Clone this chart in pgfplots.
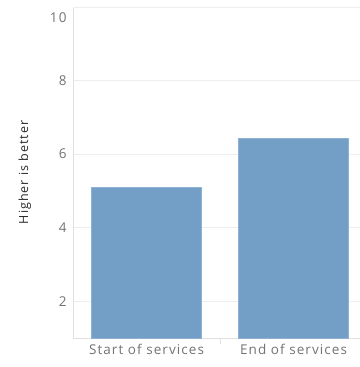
\documentclass[border=0pt]{standalone}
\usepackage{pgfplots}
\pgfplotsset{compat=1.18}
\usepackage{fontspec}
\setmainfont{Open Sans}[LetterSpace=8]
\usetikzlibrary{calc}
\definecolor{barblue}{RGB}{115,159,199}
\definecolor{gridc}{RGB}{238,238,238}
\definecolor{axc}{RGB}{225,225,225}
\definecolor{tickc}{RGB}{115,115,115}
\definecolor{labc}{RGB}{40,40,40}
\begin{document}
\begin{tikzpicture}
\begin{axis}[
  name=ax,
  scale only axis,
  width=287bp, height=331bp,
  xmin=-0.5, xmax=1.452,
  ymin=1, ymax=10,
  ytick={2,4,6,8},
  extra y ticks={10},
  extra y tick style={yticklabel style={yshift=-11bp}, grid=major},
  xtick={0,1},
  xticklabels={Start of services, End of services},
  extra x ticks={0.5},
  extra x tick labels={},
  extra x tick style={major tick length=6bp, tick style={axc, line width=0.6bp}, xmajorgrids=false},
  axis x line*=bottom,
  axis y line*=left,
  axis line style={axc, line width=0.6bp},
  x axis line style={-},
  y axis line style={-},
  major tick length=0pt,
  ymajorgrids,
  grid style={gridc, line width=0.6bp},
  tick label style={font=\fontsize{13.5bp}{15bp}\selectfont, text=tickc},
  /pgf/number format/assume math mode=true,
  yticklabel style={xshift=-3bp},
  xticklabel style={yshift=-3bp},
  ylabel={Higher is better},
  ylabel style={font=\fontsize{12.5bp}{14bp}\selectfont, text=labc, yshift=12bp},
  ybar, bar width=0.748,
  bar shift=0pt,
  clip=false,
]
\addplot[fill=barblue, draw=barblue!80!white, line width=0.4bp] coordinates {(0,5.1) (1,6.42)};
\end{axis}
\pgfresetboundingbox
\path[use as bounding box] ($(ax.south west)+(-73bp,-29bp)$) rectangle ($(ax.north east)+(0bp,7bp)$);
\end{tikzpicture}
\end{document}
